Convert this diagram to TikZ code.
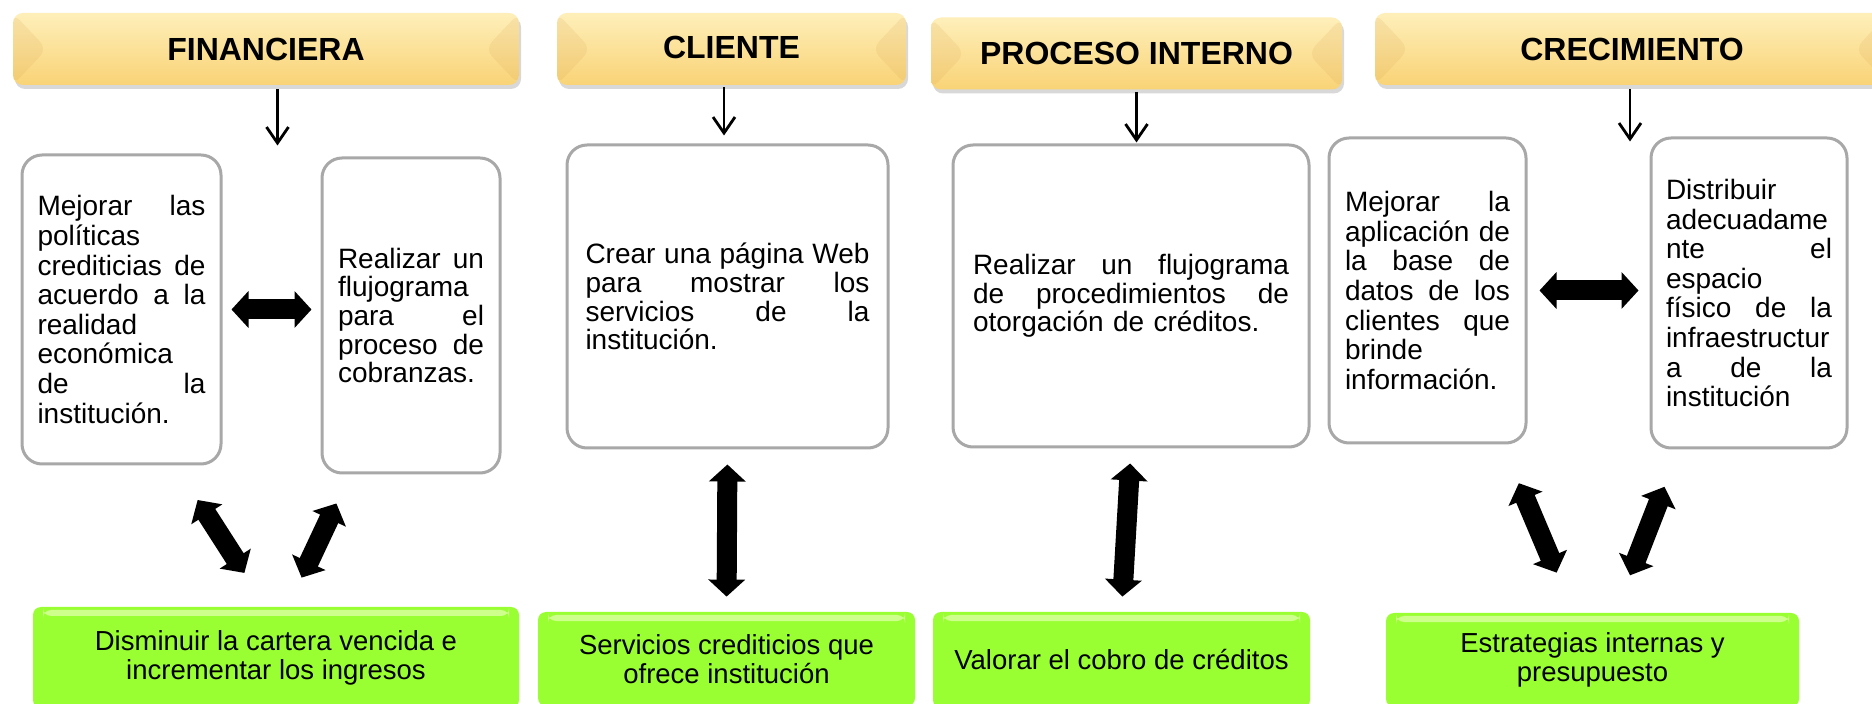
\documentclass[tikz,border=0pt]{standalone}
\usepackage{fontspec}
\setmainfont{Liberation Sans}
\usetikzlibrary{arrows.meta,shadows}

\definecolor{hdrtop}{RGB}{254,239,186}
\definecolor{hdrbot}{RGB}{249,211,118}
\definecolor{hdrbevel}{RGB}{214,160,80}
\definecolor{boxgray}{RGB}{168,168,168}
\definecolor{goalgreen}{RGB}{153,255,51}
\definecolor{goallight}{RGB}{206,255,140}

\newcommand{\jline}[1]{\makebox[\hsize][s]{\spaceskip=0.278em plus 1fil\relax #1}}

\tikzset{
  header/.style={rounded corners=5pt, top color=hdrtop, bottom color=hdrbot,
    minimum height=36pt, inner sep=0pt,
    drop shadow={shadow xshift=1pt, shadow yshift=-2pt, opacity=0.3},
    font=\fontsize{16}{19}\selectfont\bfseries,
    path picture={
      \fill[hdrbevel, opacity=0.15] (path picture bounding box.north west)
        -- ([xshift=17pt]path picture bounding box.west)
        -- (path picture bounding box.south west) -- cycle;
      \fill[hdrbevel, opacity=0.15] (path picture bounding box.north east)
        -- ([xshift=-17pt]path picture bounding box.east)
        -- (path picture bounding box.south east) -- cycle;}},
  taskbox/.style={draw=boxgray, line width=1.5pt, rounded corners=10pt,
    align=left, inner sep=0pt, font=\fontsize{14}{14.35}\selectfont},
  tallbox/.style={taskbox, font=\fontsize{14}{14.8}\selectfont},
  goal/.style={fill=goalgreen, rounded corners=4pt, align=center, inner sep=0pt,
    font=\fontsize{13.75}{14.5}\selectfont,
    path picture={
      \fill[goallight] ([xshift=5pt,yshift=-1.5pt]path picture bounding box.north west)
        rectangle ([xshift=-5pt,yshift=-4.5pt]path picture bounding box.north east);}},
  downarrow/.style={-{Straight Barb[length=8pt,width=11pt]}, line width=1.4pt},
  dblarrow/.style={line width=10pt,
    {Triangle[length=8.5pt,width=18pt]}-{Triangle[length=8.5pt,width=18pt]}}
}

\begin{document}
\begin{tikzpicture}[x=0.5pt,y=-0.5pt]
\path[use as bounding box, clip] (0,0) rectangle (1872,704);
\fill[white] (0,0) rectangle (1872,704);

% perspectivas
\node[header, minimum width=253pt] (fin) at (266,49) {FINANCIERA};
\node[header, minimum width=174.5pt] (cli) at (731.5,49) {\raisebox{1.5pt}{CLIENTE}};
\node[header, minimum width=205.5pt] (pro) at (1136.5,53.5) {PROCESO INTERNO};
\node[header, minimum width=257pt] (cre) at (1632,49) {CRECIMIENTO};

% acciones
\node[tallbox, minimum width=99.5pt, minimum height=154.5pt, text width=84pt] (fin1) at (121.5,309.5)
  {\jline{Mejorar las}\\ políticas\\ \jline{crediticias de}\\ \jline{acuerdo a la}\\ realidad\\ económica\\ \jline{de la}\\ institución.};
\node[taskbox, minimum width=89pt, minimum height=157.5pt, text width=73pt] (fin2) at (411,315.5)
  {\jline{Realizar un}\\ flujograma\\ \jline{para el}\\ \jline{proceso de}\\ cobranzas.};
\node[taskbox, minimum width=160.5pt, minimum height=151.5pt, text width=142pt] (cli1) at (727.5,296.5)
  {\jline{Crear una página Web}\\ \jline{para mostrar los}\\ \jline{servicios de la}\\ institución.};
\node[taskbox, minimum width=178pt, minimum height=151pt, text width=158pt] (pro1) at (1131,296)
  {\jline{Realizar un flujograma}\\ \jline{de procedimientos de}\\ otorgación de créditos.};
\node[tallbox, minimum width=98.5pt, minimum height=152.5pt, text width=82.5pt] (cre1) at (1427.5,290.5)
  {\jline{Mejorar la}\\ \jline{aplicación de}\\ \jline{la base de}\\ \jline{datos de los}\\ \jline{clientes que}\\ brinde\\ información.};
\node[tallbox, minimum width=98pt, minimum height=155pt, text width=83pt] (cre2) at (1749,293)
  {Distribuir\\ adecuadame\\ \jline{nte el}\\ espacio\\ \jline{físico de la}\\ infraestructur\\ \jline{a de la}\\ institución};

% objetivos
\node[goal, minimum width=243pt, minimum height=50.5pt] (obj1) at (276,657.5)
  {Disminuir la cartera vencida e\\ incrementar los ingresos};
\node[goal, minimum width=188.5pt, minimum height=47pt] (obj2) at (726.5,659)
  {Servicios crediticios que\\ ofrece institución};
\node[goal, minimum width=188.5pt, minimum height=48pt] (obj3) at (1121.5,660)
  {Valorar el cobro de créditos};
\node[goal, minimum width=206.5pt, minimum height=47pt] (obj4) at (1592.5,660)
  {Estrategias internas y\\ presupuesto};

% flechas
\draw[downarrow, shorten <=2pt, shorten >=4pt] ([xshift=5.75pt]fin.south) -- ([xshift=5.75pt]fin.south |- fin1.north);
\draw[downarrow, shorten <=1pt, shorten >=4pt] ([xshift=-3.75pt]cli.south) -- ([xshift=-3.75pt]cli.south |- cli1.north);
\draw[downarrow, shorten <=1pt, shorten >=0.5pt] (pro.south) -- (pro.south |- pro1.north);
\draw[downarrow, shorten <=2pt] ([xshift=-1pt]cre.south) -- ([xshift=-1pt,yshift=-2.5pt]cre.south |- cre1.north);

\draw[dblarrow, shorten <=4.5pt, shorten >=4.5pt] (fin1.east) -- (fin1.east -| fin2.west);
\draw[dblarrow, shorten <=6pt, shorten >=5.5pt] (cre1.east) -- (cre1.east -| cre2.west);

\draw[dblarrow, shorten <=7.5pt, shorten >=7.5pt] (cli1.south) -- (obj2.north);
\draw[dblarrow, shorten <=7.5pt, shorten >=7.5pt] (pro1.south) -- (obj3.north);

\draw[dblarrow, shorten <=20.5pt, shorten >=20pt] ([xshift=27pt]fin1.south) -- ([xshift=-5pt]obj1.north);
\draw[dblarrow, shorten <=16pt, shorten >=16pt] ([xshift=-30.5pt]fin2.south) -- ([xshift=6pt]obj1.north);
\draw[dblarrow, shorten <=21pt, shorten >=21.7pt] ([xshift=37.5pt]cre1.south) -- ([xshift=-9.5pt]obj4.north);
\draw[dblarrow, shorten <=20pt, shorten >=20pt] ([xshift=-35pt]cre2.south) -- ([xshift=11.5pt]obj4.north);
\end{tikzpicture}
\end{document}
